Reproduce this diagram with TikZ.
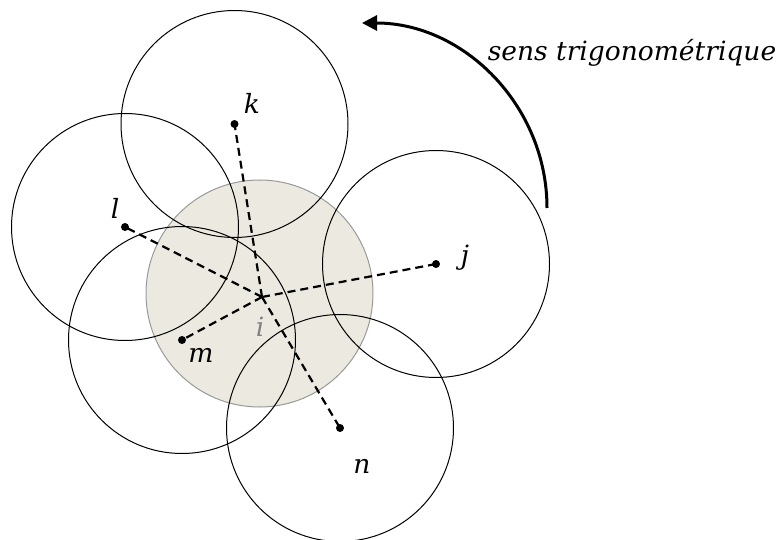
\documentclass[tikz,border=0pt]{standalone}
\usepackage{fontspec}
\setmainfont{DejaVu Serif}
\usetikzlibrary{arrows.meta}
\definecolor{discfill}{RGB}{236,234,224}
\tikzset{
  lbl/.style={font=\itshape\fontsize{26.5}{30}\selectfont, inner sep=0pt},
  nbr/.style={draw=black, line width=1pt},
  link/.style={line width=2.2pt, dash pattern=on 8pt off 5pt},
}
\begin{document}
\begin{tikzpicture}[x=1pt,y=-1pt]
    \useasboundingbox (0,0) rectangle (779,540);
    % centre disc
    \filldraw[fill=discfill, draw=gray!80, line width=1pt] (259.5,293.5) circle (113.5pt);
    \coordinate (i) at (262,297);
    % neighbours
    \foreach \name/\x/\y in {k/234.5/124,l/125/227,j/436/264,m/182/340,n/340/428} {
        \draw[nbr] (\x,\y) circle (113.5pt);
        \coordinate (\name) at (\x,\y);
      }
    \foreach \name in {k,l,j,m,n} {
        \draw[link] (i) -- (\name);
        \fill (\name) circle (4pt);
      }
    \node[lbl] (lk) at (252,103) {k};
    \node[lbl] (ll) at (115,208) {l};
    \node[lbl] (lj) at (465,258) {j};
    \node[lbl, text=gray] (li) at (260,327) {i};
    \node[lbl] (lm) at (201,355) {m};
    \node[lbl] (ln) at (362,466) {n};
    % direction
    \coordinate (s0) at (547,208);
    \coordinate (s1) at (362,23);
    \draw[line width=3pt, -{Triangle[length=15pt,width=15pt]}] (s0) .. controls (547,106) and (464,23) .. (s1);
    \node[lbl, anchor=base] (sens) at (632,61) {sens trigonométrique};
\end{tikzpicture}
\end{document}
